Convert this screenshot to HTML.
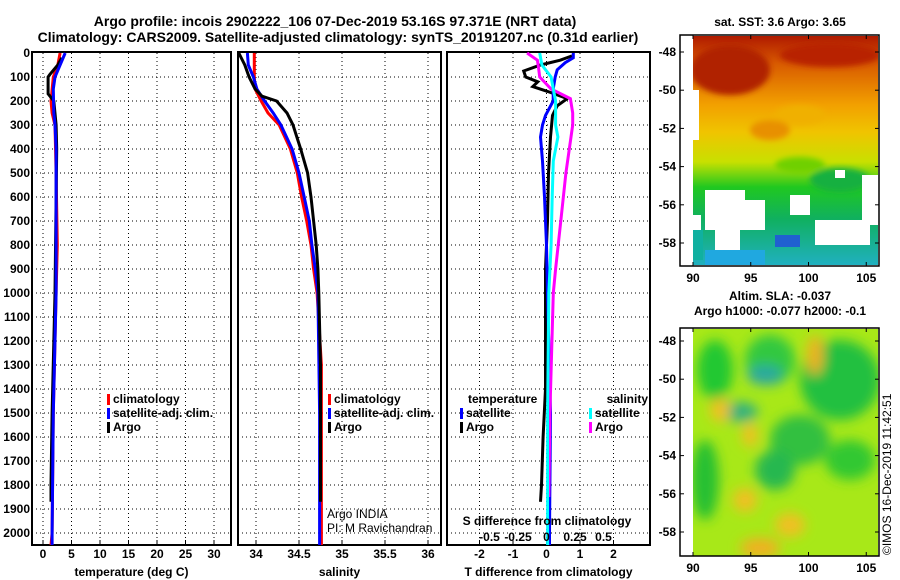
<!DOCTYPE html>
<html><head><meta charset="utf-8"><style>
html,body{margin:0;padding:0;background:#fff;}
svg{display:block;font-family:"Liberation Sans",Arial,sans-serif;}
.t{font-weight:bold;font-size:14px;}
.tk{font-weight:bold;font-size:12px;}
.lg{font-weight:bold;font-size:12px;}
</style></head><body>
<svg id="chart" width="900" height="580" viewBox="0 0 900 580">
<defs>
<linearGradient id="sstg" x1="0" y1="0" x2="0" y2="1">
<stop offset="0" stop-color="#b01a00"/><stop offset="0.12" stop-color="#d85a00"/>
<stop offset="0.3" stop-color="#f2a000"/><stop offset="0.42" stop-color="#f0c400"/>
<stop offset="0.55" stop-color="#c8e000"/><stop offset="0.66" stop-color="#20c820"/>
<stop offset="0.8" stop-color="#10b060"/><stop offset="1" stop-color="#20b0c0"/>
</linearGradient>
<filter id="blur6"><feGaussianBlur stdDeviation="6"/></filter>
<filter id="blur3"><feGaussianBlur stdDeviation="3"/></filter>
<clipPath id="clipTop"><rect x="693" y="36" width="185" height="229"/></clipPath>
<clipPath id="clipBot"><rect x="693" y="329" width="185" height="227"/></clipPath>
</defs>
<text class="t" x="335" y="26" text-anchor="middle">Argo profile: incois 2902222_106 07-Dec-2019 53.16S 97.371E (NRT data)</text>
<text class="t" x="338" y="42" text-anchor="middle">Climatology: CARS2009. Satellite-adjusted climatology: synTS_20191207.nc (0.31d earlier)</text>
<g id="panels"></g>
<g id="maps">
<text class="tk" x="780" y="26" text-anchor="middle">sat. SST: 3.6 Argo: 3.65</text>
<g clip-path="url(#clipTop)">
<rect x="693" y="36" width="185" height="229" fill="url(#sstg)"/>
<g filter="url(#blur3)">
<ellipse cx="730" cy="70" rx="40" ry="25" fill="#b02000"/>
<ellipse cx="830" cy="55" rx="50" ry="12" fill="#b82000"/>
<ellipse cx="770" cy="130" rx="20" ry="10" fill="#e89000"/>
<ellipse cx="800" cy="115" rx="25" ry="10" fill="#f0b000"/>
<ellipse cx="840" cy="180" rx="30" ry="12" fill="#18b040"/>
<ellipse cx="800" cy="165" rx="25" ry="8" fill="#70d000"/>
</g>
<rect x="693" y="90" width="6" height="50" fill="#fff"/>
<rect x="693" y="215" width="8" height="15" fill="#fff"/>
<rect x="693" y="230" width="10" height="30" fill="#10b0a0"/>
<rect x="705" y="190" width="40" height="40" fill="#fff"/>
<rect x="715" y="230" width="25" height="20" fill="#fff"/>
<rect x="745" y="200" width="20" height="30" fill="#fff"/>
<rect x="790" y="195" width="20" height="20" fill="#fff"/>
<rect x="815" y="220" width="55" height="25" fill="#fff"/>
<rect x="835" y="170" width="10" height="8" fill="#fff"/>
<rect x="862" y="175" width="16" height="50" fill="#fff"/>
<rect x="775" y="235" width="25" height="12" fill="#2060d0"/>
<rect x="705" y="250" width="60" height="15" fill="#20a8e0"/>
</g>
<rect x="680" y="35" width="199" height="231" fill="none" stroke="#000" stroke-width="1.5"/>
<text class="tk" x="780" y="300" text-anchor="middle">Altim. SLA: -0.037</text>
<text class="tk" x="780" y="315" text-anchor="middle">Argo h1000: -0.077 h2000: -0.1</text>
<g clip-path="url(#clipBot)">
<rect x="693" y="329" width="185" height="227" fill="#a8e818"/>
<g filter="url(#blur6)">
<ellipse cx="715" cy="370" rx="18" ry="30" fill="#20c830"/>
<ellipse cx="770" cy="360" rx="25" ry="25" fill="#30c840"/>
<ellipse cx="840" cy="380" rx="40" ry="40" fill="#20c040"/>
<ellipse cx="765" cy="375" rx="18" ry="10" fill="#2aa8a0"/>
<ellipse cx="740" cy="412" rx="18" ry="10" fill="#30b080"/>
<ellipse cx="800" cy="440" rx="30" ry="25" fill="#30c040"/>
<ellipse cx="705" cy="480" rx="14" ry="40" fill="#28c030"/>
<ellipse cx="775" cy="470" rx="20" ry="20" fill="#28b850"/>
<ellipse cx="850" cy="460" rx="25" ry="20" fill="#30c830"/>
<ellipse cx="815" cy="355" rx="8" ry="20" fill="#f0b020"/>
<ellipse cx="720" cy="410" rx="10" ry="12" fill="#f0c020"/>
<ellipse cx="750" cy="435" rx="8" ry="12" fill="#f0c020"/>
<ellipse cx="745" cy="500" rx="12" ry="12" fill="#f0c020"/>
<ellipse cx="790" cy="525" rx="15" ry="12" fill="#f0c020"/>
<ellipse cx="760" cy="548" rx="20" ry="10" fill="#f0b020"/>
</g>
</g>
<rect x="680" y="328" width="199" height="228" fill="none" stroke="#000" stroke-width="1.5"/>
<g id="mapAxes"></g>
<text x="891" y="555" font-size="12" transform="rotate(-90 891 555)">©IMOS 16-Dec-2019 11:42:51</text>
</g>
</svg>
<script>
// ---- data ----
const depthT_clim = [0,50,100,200,250,300,500,800,1000,1500,2000,2050];
const temp_clim   = [3.0,2.6,1.8,1.4,1.6,2.1,2.3,2.5,2.3,1.8,1.6,1.4];
const depthT_sat  = [0,50,100,150,250,300,400,1000,1500,2000,2050];
const temp_sat    = [3.9,3.0,2.1,1.8,1.9,2.1,2.3,2.3,1.8,1.6,1.6];
const depthT_argo = [20,50,90,100,170,200,300,400,1000,1500,1800,1870];
const temp_argo   = [3.3,2.6,1.2,0.9,0.9,1.9,2.3,2.4,2.1,1.6,1.4,1.4];

const depthS_clim = [0,100,150,200,250,300,400,500,600,700,800,900,1000,1300,2050];
const sal_clim    = [33.98,33.98,33.99,34.06,34.14,34.27,34.40,34.48,34.53,34.59,34.64,34.67,34.71,34.76,34.76];
const depthS_sat  = [0,50,100,150,200,250,300,400,500,600,700,800,900,1000,1500,2050];
const sal_sat     = [33.90,33.91,33.97,34.01,34.10,34.20,34.29,34.42,34.50,34.56,34.62,34.65,34.69,34.72,34.74,34.74];
const depthS_argo = [0,50,100,150,180,200,250,300,400,500,600,700,800,900,1000,1300,1870];
const sal_argo    = [33.80,33.87,33.92,33.99,34.07,34.24,34.36,34.43,34.52,34.60,34.64,34.67,34.70,34.72,34.73,34.75,34.75];

const depthD_targo = [12,30,50,75,100,120,140,160,190,220,260,350,500,700,900,1400,1600,1800,1870];
const dT_argo      = [0.76,0.41,-0.18,-0.68,-0.62,-0.26,-0.41,0.03,0.62,0.32,0.18,0.12,0.06,0.03,-0.03,-0.03,-0.10,-0.15,-0.18];
const depthD_tsat  = [0,20,40,70,100,150,200,260,300,350,450,600,800,1000,1500,2000,2050];
const dT_sat       = [0.8,0.8,0.56,0.32,0.26,0.2,0.2,-0.03,-0.12,-0.18,-0.12,-0.06,0,0.03,0.12,0.09,0.09];
const depthD_sargo = [0,30,60,100,150,190,250,300,400,500,700,900,1000,1500,1850];
const dS_argo      = [-0.17,-0.08,-0.07,-0.06,0.04,0.21,0.23,0.23,0.2,0.17,0.125,0.08,0.06,0.03,0.02];
const depthD_ssat  = [0,50,100,150,200,300,350,450,600,800,1000,1500,2050];
const dS_sat       = [-0.06,-0.04,0.04,0.06,0.08,0.08,0.1,0.06,0.05,0.04,0.02,0.01,0.01];

const depthTicks = [0,100,200,300,400,500,600,700,800,900,1000,1100,1200,1300,1400,1500,1600,1700,1800,1900,2000];
const tempTicks = [0,5,10,15,20,25,30];
const salTicks = [34,34.5,35,35.5,36];
const salTickLabels = ["34","34.5","35","35.5","36"];
const dTTicks = [-2,-1,0,1,2];
const dSTicks = [-0.5,-0.25,0,0.25,0.5];
const dSTickLabels = ["-0.5","-0.25","0","0.25","0.5"];
const latTicks = [-48,-50,-52,-54,-56,-58];
const lonTicks = [90,95,100,105];

// ---- scales ----
const NS="http://www.w3.org/2000/svg";
const Y0=53, Ybot=545;
const yD = d => Y0 + d*0.24;
const xT = t => 43 + t*5.7;
const xS = s => 256 + (s-34)*86;
const xDT = v => 546.5 + v*33.5;
const xDS = v => 546.5 + v*114;
const panelsG=document.getElementById('panels');
function el(tag,attrs,parent){const e=document.createElementNS(NS,tag);for(const k in attrs)e.setAttribute(k,attrs[k]);(parent||panelsG).appendChild(e);return e;}
function txt(x,y,s,cls,anchor,parent){const e=el('text',{x:x,y:y,'class':cls,'text-anchor':anchor||'middle'},parent);e.textContent=s;return e;}

function panel(name,x0,x1,ticksX,labelsX,sx,title){
  const g=el('g',{});
  
  
  depthTicks.forEach(d=>{ if(d>0) el('line',{x1:x0,x2:x1,y1:yD(d),y2:yD(d),stroke:'#000','stroke-width':1,'stroke-dasharray':'1,3'},g);});
  ticksX.forEach((v,i)=>{
    const x=sx(v);
    el('line',{x1:x,x2:x,y1:Y0,y2:Ybot,stroke:'#000','stroke-width':1,'stroke-dasharray':'1,3'},g);
    el('line',{x1:x,x2:x,y1:Ybot-5,y2:Ybot,stroke:'#000','stroke-width':1},g);
    const t=txt(x,558,labelsX[i],'tk','middle',g);
    
    
  });
  const f=el('rect',{x:x0,y:Y0-1,width:x1-x0,height:Ybot-Y0+1,fill:'none',stroke:'#000','stroke-width':2},g);
  
  
  const tt=txt((x0+x1)/2,576,title,'tk','middle',g);
  
  
  return g;
}
function line(g,name,depths,vals,sx,color){
  const pts=depths.map((d,i)=>sx(vals[i]).toFixed(1)+','+yD(d).toFixed(1)).join(' ');
  const p=el('polyline',{points:pts,fill:'none',stroke:color,'stroke-width':3,'stroke-linejoin':'miter'},g);
  
  
}
function legend(g,x,y,color,label){
  el('rect',{x:x,y:y-9,width:3,height:11,fill:color},g);
  const t=txt(x+6,y,label,'lg','start',g);
  
  
}

depthTicks.forEach(d=>{
  const t=txt(30,yD(d)+4,String(d),'tk','end');
  
  
});

const p1=panel('temperature-panel',32,231,tempTicks,tempTicks.map(String),xT,'temperature (deg C)');
line(p1,'temp-climatology-line',depthT_clim,temp_clim,xT,'#ff0000');
line(p1,'temp-argo-line',depthT_argo,temp_argo,xT,'#000000');
line(p1,'temp-satellite-line',depthT_sat,temp_sat,xT,'#0000ff');
legend(p1,107,403,'#ff0000','climatology');
legend(p1,107,417,'#0000ff','satellite-adj. clim.');
legend(p1,107,431,'#000000','Argo');

const p2=panel('salinity-panel',238,441,salTicks,salTickLabels,xS,'salinity');
line(p2,'sal-climatology-line',depthS_clim,sal_clim,xS,'#ff0000');
line(p2,'sal-satellite-line',depthS_sat,sal_sat,xS,'#0000ff');
line(p2,'sal-argo-line',depthS_argo,sal_argo,xS,'#000000');
legend(p2,328,403,'#ff0000','climatology');
legend(p2,328,417,'#0000ff','satellite-adj. clim.');
legend(p2,328,431,'#000000','Argo');
let a=txt(327,518,'Argo INDIA','','start',p2); a.setAttribute('font-size','12');


a=txt(327,532,'PI: M Ravichandran','','start',p2); a.setAttribute('font-size','12');



const p3=panel('difference-panel',447,650,dTTicks,dTTicks.map(String),xDT,'T difference from climatology');
line(p3,'dT-argo-line',depthD_targo,dT_argo,xDT,'#000000');
line(p3,'dT-satellite-line',depthD_tsat,dT_sat,xDT,'#0000ff');
line(p3,'dS-argo-line',depthD_sargo,dS_argo,xDS,'#ff00ff');
line(p3,'dS-satellite-line',depthD_ssat,dS_sat,xDS,'#00ffff');
let h=txt(468,403,'temperature','lg','start',p3);


h=txt(648,403,'salinity','lg','end',p3);


legend(p3,460,417,'#0000ff','satellite');
legend(p3,460,431,'#000000','Argo');
legend(p3,589,417,'#00ffff','satellite');
legend(p3,589,431,'#ff00ff','Argo');
h=txt(547,525,'S difference from climatology','tk','middle',p3);


dSTicks.forEach((v,i)=>{
  const t=txt(xDS(v),541,dSTickLabels[i],'tk','middle',p3);
  
  
});

const mapG=document.getElementById('mapAxes');
const lonX = lo => 693 + (lo-90)*11.55;
function mapAxis(yTop,yLat48,bottomY){
  latTicks.forEach(l=>{
    const y=yLat48 + (-48-l)*19.1;
    el('line',{x1:680,x2:684,y1:y,y2:y,stroke:'#000'},mapG);
    el('line',{x1:875,x2:879,y1:y,y2:y,stroke:'#000'},mapG);
    const t=txt(676,y+4,String(l),'tk','end',mapG);
    
    
  });
  lonTicks.forEach(lo=>{
    const x=lonX(lo);
    el('line',{x1:x,x2:x,y1:bottomY-4,y2:bottomY,stroke:'#000'},mapG);
    el('line',{x1:x,x2:x,y1:yTop,y2:yTop+4,stroke:'#000'},mapG);
    const t=txt(x,bottomY+16,String(lo),'tk','middle',mapG);
    
    
  });
}
mapAxis(35,52,266);
mapAxis(328,341,556);
</script>
</body></html>
